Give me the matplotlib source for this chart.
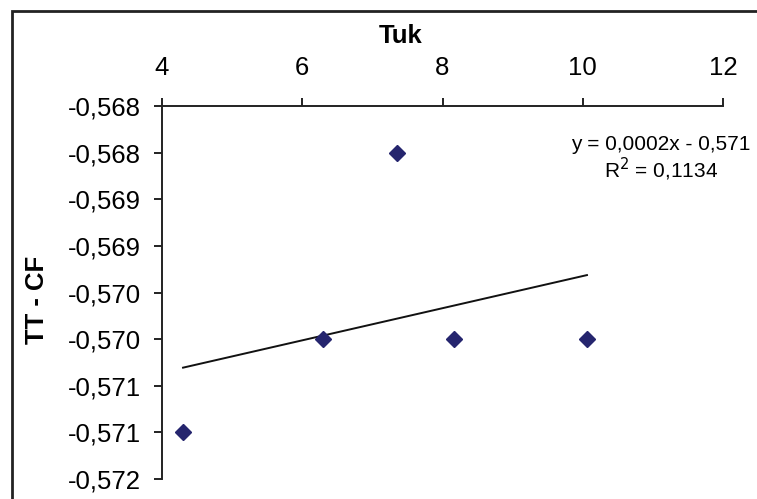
import matplotlib.pyplot as plt
import numpy as np
from matplotlib.patches import Rectangle

plt.rcParams['font.family'] = ['Liberation Sans', 'DejaVu Sans']

# data
tuk = [4.30, 6.30, 7.35, 8.17, 10.06]
tt_cf = [-0.5710, -0.5700, -0.5680, -0.5700, -0.5700]

xticks = [4, 6, 8, 10, 12]
yticks = [-0.5675, -0.5680, -0.5685, -0.5690, -0.5695, -0.5700, -0.5705, -0.5710, -0.5715]
ytick_labels = ['-0,568', '-0,568', '-0,569', '-0,569', '-0,570', '-0,570', '-0,571', '-0,571', '-0,572']
eq_text = 'y = 0,0002x - 0,571'
r2_text = 'R$^2$ = 0,1134'

W, H = 757, 499
fig = plt.figure(figsize=(W/100, H/100), dpi=100)
ax = fig.add_axes([162/W, 1 - 479/H, (723 - 162)/W, (479 - 106)/H])

# outer chart border (right and bottom edges fall outside the image)
fig.patches.append(Rectangle((12/W, -0.1), 1.2, 1.1 - 11/H, transform=fig.transFigure,
                             fill=False, edgecolor='#222222', linewidth=2))

ax.plot(tuk, tt_cf, 'D', color='#25256e', markersize=8.5, zorder=3)

# linear trend line
k, b = np.polyfit(tuk, tt_cf, 1)
xs = np.array([min(tuk), max(tuk)])
ax.plot(xs, k*xs + b, color='#111111', linewidth=1.4)

ax.set_xlim(4, 12)
ax.set_ylim(-0.5715, -0.5675)
ax.set_xticks(xticks)
ax.set_yticks(yticks)
ax.set_yticklabels(ytick_labels)

ax.xaxis.tick_top()
ax.spines['right'].set_visible(False)
ax.spines['bottom'].set_visible(False)
for s in ['left', 'top']:
    ax.spines[s].set_linewidth(1.4)
    ax.spines[s].set_color('#222222')
ax.tick_params(axis='both', direction='out', length=6, width=1.4, color='#222222',
               labelsize=18.5)
ax.tick_params(axis='y', pad=9)
ax.tick_params(axis='x', pad=13)

fig.text(401/W, 1 - 36/H, 'Tuk', fontsize=18.5, fontweight='bold', ha='center', va='center')
fig.text(37/W, 1 - 300/H, 'TT - CF', fontsize=18.5, fontweight='bold', rotation=90,
         ha='center', va='center')

fig.text(661/W, 1 - 145/H, eq_text, fontsize=15, ha='center', va='center')
fig.text(661/W, 1 - 169/H, r2_text, fontsize=15, ha='center', va='center')

fig.savefig('out.png', dpi=100)
